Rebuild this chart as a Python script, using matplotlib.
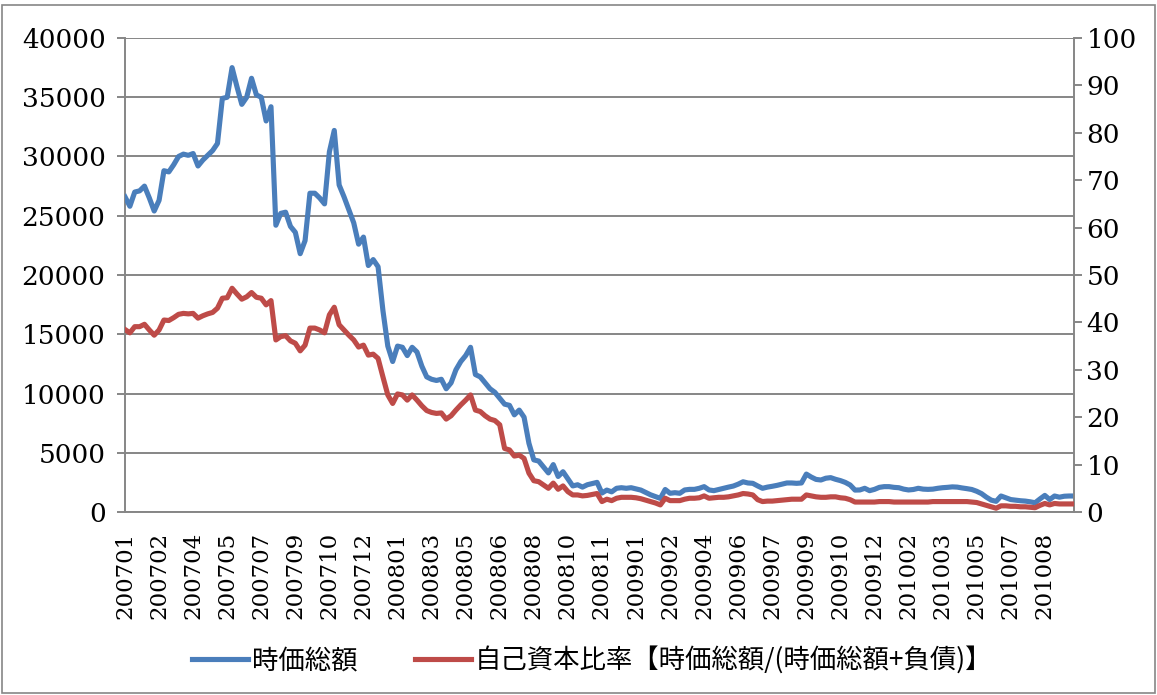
import numpy as np
import matplotlib
matplotlib.use('Agg')
import matplotlib.pyplot as plt
from matplotlib.patches import Rectangle

# //- data (weekly, 2007/01 - 2010/09)
market_cap = [26600, 25800, 27000, 27100, 27500, 26500, 25400, 26300, 28800, 28700,
              29300, 30000, 30200, 30100, 30250, 29200, 29700, 30100, 30500, 31100,
              34900, 35000, 37500, 35900, 34400, 35000, 36600, 35200, 35000, 33000,
              34200, 24200,
              25200, 25300, 24100, 23600, 21800, 22900, 26900, 26900, 26500, 26000,
              30400, 32200, 27600, 26600, 25500, 24400, 22600, 23200, 20800, 21300,
              20700, 17000, 14000, 12700, 14000, 13900, 13200, 13900, 13500, 12300,
              11400,
              11200, 11100, 11200, 10400, 10900, 12000, 12700, 13200, 13900, 11600,
              11400, 10900, 10400, 10100, 9600, 9100, 9000, 8200, 8600, 8000,
              5800, 4400, 4300, 3800, 3300, 4000, 3000, 3400, 2800, 2200,
              2300, 2100, 2300, 2400, 2500,
              1600, 1850, 1700, 2000, 2050, 2000, 2050, 1950, 1850, 1650,
              1450, 1300, 1150, 1900, 1580, 1630, 1580, 1860, 1910, 1910,
              2000, 2140, 1860, 1800, 1900, 2000, 2100, 2190, 2350, 2550,
              2450, 2420, 2200, 2000, 2100, 2170, 2250, 2350, 2450, 2450,
              2420, 2450, 3200, 2950, 2750, 2700, 2850, 2900, 2760,
              2650, 2500, 2280, 1850, 1860, 2000, 1800, 1910, 2080, 2140,
              2140, 2080, 2050, 1930, 1860, 1900, 2000, 1930, 1910, 1930,
              2000, 2050, 2080, 2120, 2100, 2030, 1970, 1900, 1750, 1550,
              1250, 1000, 900, 1350, 1200, 1050, 1000, 950, 920, 860,
              780, 1100, 1400, 1050, 1350, 1250, 1330, 1350, 1350]

equity_ratio = [38.5, 37.8, 39.1, 39.1, 39.6, 38.4, 37.3, 38.4, 40.5, 40.4,
                41.0, 41.7, 41.9, 41.8, 41.9, 40.9, 41.4, 41.8, 42.1, 43.0,
                45.1, 45.2, 47.2, 46.0, 44.9, 45.4, 46.3, 45.3, 45.1, 43.7,
                44.6, 36.3,
                37.0, 37.2, 36.1, 35.6, 34.0, 35.2, 38.8, 38.8, 38.4, 37.8,
                41.6, 43.2, 39.5, 38.4, 37.3, 36.3, 34.8, 35.2, 33.1, 33.3,
                32.4, 28.5, 24.7, 22.9, 24.9, 24.7, 23.6, 24.7, 23.6, 22.4,
                21.4,
                21.0, 20.8, 20.9, 19.6, 20.3, 21.5, 22.6, 23.6, 24.7, 21.5,
                21.2, 20.3, 19.6, 19.3, 18.4, 13.4, 13.1, 11.8, 12.0, 11.3,
                8.2, 6.6, 6.4, 5.7, 5.0, 6.1, 4.8, 5.5, 4.3, 3.6,
                3.6, 3.4, 3.5, 3.7, 3.9,
                2.2, 2.7, 2.4, 2.9, 3.1, 3.1, 3.1, 3.0, 2.8, 2.5,
                2.2, 1.9, 1.5, 2.9, 2.4, 2.4, 2.4, 2.7, 2.9, 2.9,
                3.0, 3.4, 2.9, 3.0, 3.1, 3.1, 3.2, 3.4, 3.6, 3.9,
                3.8, 3.6, 2.6, 2.2, 2.3, 2.3, 2.4, 2.5, 2.6, 2.7,
                2.7, 2.7, 3.6, 3.4, 3.2, 3.1, 3.1, 3.2, 3.2,
                3.0, 2.9, 2.6, 2.1, 2.1, 2.1, 2.1, 2.1, 2.2, 2.2,
                2.2, 2.1, 2.1, 2.1, 2.1, 2.1, 2.1, 2.1, 2.1, 2.2,
                2.2, 2.2, 2.2, 2.2, 2.2, 2.2, 2.2, 2.1, 2.0, 1.7,
                1.4, 1.1, 0.8, 1.3, 1.3, 1.2, 1.2, 1.1, 1.1, 1.0,
                0.9, 1.4, 1.8, 1.5, 1.8, 1.7, 1.7, 1.7, 1.7]

tick_labels = ['200701', '200702', '200704', '200705', '200707', '200709', '200710',
               '200712', '200801', '200803', '200805', '200806', '200808', '200810',
               '200811', '200901', '200902', '200904', '200906', '200907', '200909',
               '200910', '200912', '201002', '201003', '201005', '201007', '201008']

label_cap = '時価総額'
label_ratio = '自己資本比率【時価総額/(時価総額+負債)】'

# //- style
blue = '#4A7EBB'
red = '#BE4B48'
grey = '#868686'
num_font = 'DejaVu Serif'
jp_font = ['Noto Sans CJK JP', 'DejaVu Sans']

fig = plt.figure(figsize=(11.57, 6.95), dpi=100)
ax = fig.add_axes([125/1157, 1 - 512/695, (1074 - 125)/1157, (512 - 38)/695])
ax2 = ax.twinx()

x = np.arange(len(market_cap))
l1, = ax.plot(x, market_cap, color=blue, lw=3.7, solid_joinstyle='round', zorder=3)
l2, = ax2.plot(x, equity_ratio, color=red, lw=3.7, solid_joinstyle='round', zorder=3)

ax.set_xlim(0, len(market_cap) - 1)
ax.set_ylim(0, 40000)
ax2.set_ylim(0, 100)
ax.set_yticks(np.arange(0, 40001, 5000))
ax2.set_yticks(np.arange(0, 101, 10))
ax.set_xticks(x[::7])
ax.set_xticklabels(tick_labels, rotation=90, fontfamily=num_font, fontsize=16.5)

ax.grid(axis='y', color=grey, lw=1.4)
ax.set_axisbelow(True)

for a in (ax, ax2):
    for s in a.spines.values():
        s.set_color(grey)
        s.set_linewidth(1.4)
    a.spines['top'].set_visible(False)
ax.spines['right'].set_visible(False)
ax2.spines['left'].set_visible(False)
ax2.spines['bottom'].set_visible(False)

ax.tick_params(axis='y', direction='out', length=6, width=1.4, color=grey, pad=8,
               labelsize=19)
ax.tick_params(axis='x', length=0, pad=14)
ax2.tick_params(axis='y', direction='out', length=6, width=1.4, color=grey, pad=3,
                labelsize=19)
for lab in ax.get_yticklabels() + ax2.get_yticklabels():
    lab.set_fontfamily(num_font)

# legend under the chart
fig.legend([l1, l2], [label_cap, label_ratio], loc='center', ncol=2,
           bbox_to_anchor=(0.512, 0.05), frameon=False,
           prop={'family': jp_font, 'size': 19},
           handlelength=2.1, handletextpad=0.15, columnspacing=2.2)

# chart border
fig.patches.append(Rectangle((0.002, 0.003), 0.996, 0.99, transform=fig.transFigure,
                             fill=False, edgecolor=grey, lw=1.2))

fig.savefig('out.png', dpi=100)
